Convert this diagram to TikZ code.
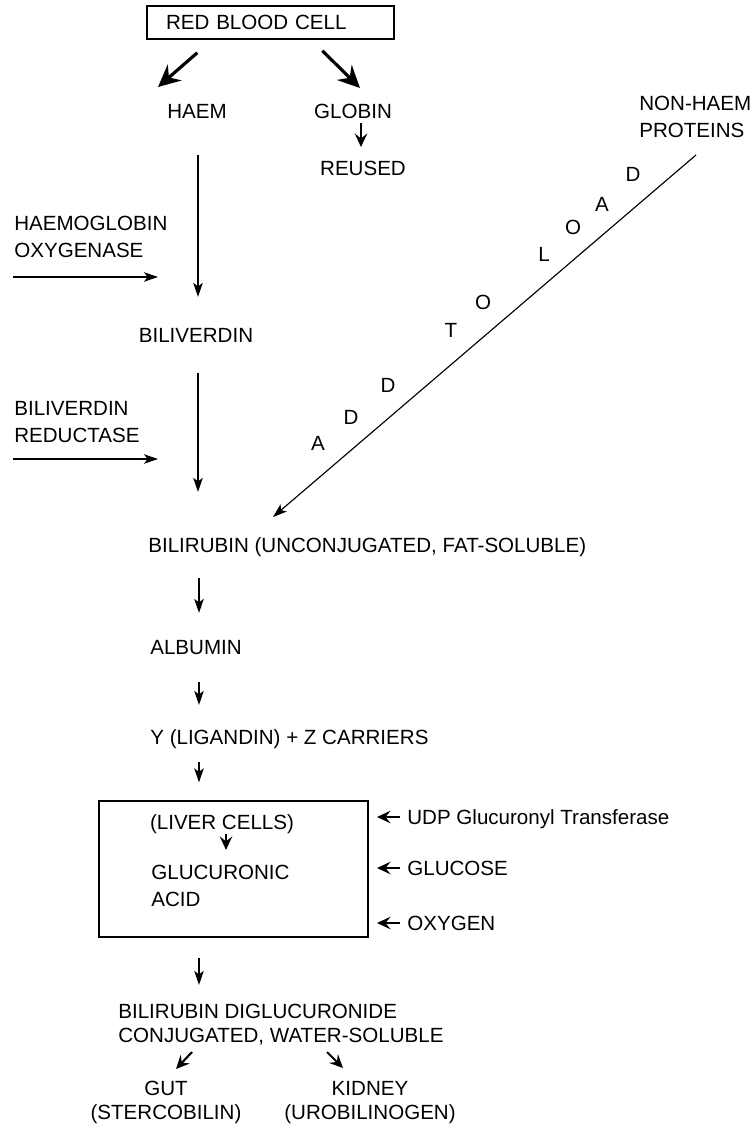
\documentclass[tikz,border=0pt]{standalone}
\usepackage{fontspec}
\setmainfont{Liberation Sans}
\usetikzlibrary{arrows.meta}
\tikzset{
  lbl/.style={font=\fontsize{11.7}{15.3}\selectfont, inner sep=0pt},
  tight/.style={font=\fontsize{11.7}{13.8}\selectfont},
  flow/.style={-{Stealth[length=0.28cm,width=0.19cm,inset=0.07cm]}, line width=0.65pt},
  short flow/.style={-{Stealth[length=0.27cm,width=0.25cm,inset=0.1cm]}, line width=1.2pt},
  big flow/.style={-{Stealth[length=0.44cm,width=0.42cm,inset=0.15cm]}, line width=1.8pt},
  cell box/.style={draw, line width=0.8pt, inner sep=0pt}
}

\begin{document}
\begin{tikzpicture}[x=0.02cm, y=-0.02cm]
    \useasboundingbox (0,0) rectangle (756,1125);

    \node[lbl, cell box, minimum width=4.94cm, minimum height=0.66cm, text width=4.18cm, inner xsep=0.38cm] (rbc) at (270.5,22.5) {RED BLOOD CELL};
    \node[lbl, anchor=base] (haem) at (197,118.4) {HAEM};
    \node[lbl, anchor=base] (globin) at (353,118.4) {GLOBIN};
    \node[lbl, anchor=base] (reused) at (363,175.4) {REUSED};
    \node[lbl, anchor=base west, align=left] (nonhaem) at (639,137.4) {NON-HAEM\\PROTEINS};
    \node[lbl, anchor=base west, align=left] (hox) at (14,257.4) {HAEMOGLOBIN\\OXYGENASE};
    \node[lbl, anchor=base] (bvd) at (196,342.4) {BILIVERDIN};
    \node[lbl, anchor=base west, align=left] (bvr) at (14,442.4) {BILIVERDIN\\REDUCTASE};
    \node[lbl, anchor=base west] (bilirubin) at (148,552.4) {BILIRUBIN (UNCONJUGATED, FAT-SOLUBLE)};
    \node[lbl, anchor=base west] (albumin) at (150,654.4) {ALBUMIN};
    \node[lbl, anchor=base west] (carriers) at (150,744.4) {Y (LIGANDIN) + Z CARRIERS};

    \node[cell box, minimum width=5.38cm, minimum height=2.72cm] (liver) at (233.5,869) {};
    \node[lbl, anchor=base] (livercells) at (222,829.4) {(LIVER CELLS)};
    \node[lbl, anchor=base west, align=left] (glucuronic) at (151,906.4) {GLUCURONIC\\ACID};
    \node[lbl, anchor=base west] (udp) at (407,824.4) {UDP Glucuronyl Transferase};
    \node[lbl, anchor=base west] (glucose) at (407,875.4) {GLUCOSE};
    \node[lbl, anchor=base west] (oxygen) at (407,930.4) {OXYGEN};

    \node[lbl, tight, anchor=base west, align=left] (conj) at (118,1042.4) {BILIRUBIN DIGLUCURONIDE\\CONJUGATED, WATER-SOLUBLE};
    \node[lbl, tight, anchor=base, align=center] (gut) at (166,1119.4) {GUT\\(STERCOBILIN)};
    \node[lbl, tight, anchor=base, align=center] (kidney) at (370,1119.4) {KIDNEY\\(UROBILINOGEN)};

    \foreach \ch/\x/\y [count=\i] in {A/318/443, D/351/417, D/388/385, T/451/330, O/483/302,
                                      L/544/254, O/573/227, A/602/204, D/633/174}
      \node[lbl] (load\i) at (\x,\y) {\ch};

    \coordinate (spine) at (199,0);
    \coordinate (hox tail) at (13,277);
    \coordinate (hox tip) at (158,277);
    \coordinate (bvr tail) at (13,459);
    \coordinate (bvr tip) at (158,459);

    \draw[big flow] ([shift={(51,13)}]rbc.south west) -- ([shift={(-39,-31.4)}]haem.base);
    \draw[big flow] ([shift={(176,11)}]rbc.south west) -- ([shift={(7,-30.4)}]globin.base);
    \draw[short flow] ([shift={(8,4.6)}]globin.base) -- ([shift={(-2,-28.4)}]reused.base);

    \draw[flow, shorten <=0.73cm, shorten >=0.91cm] ([xshift=0.02cm]haem.base) -- ([xshift=0.02cm]haem.base |- bvd.base);
    \draw[flow, shorten <=0.61cm, shorten >=1.21cm] ([xshift=0.04cm]bvd.base) -- ([xshift=0.04cm]bvd.base |- bilirubin.base);
    \draw[flow] (hox tail) -- (hox tip);
    \draw[flow] (bvr tail) -- (bvr tip);
    \draw[flow] ([shift={(57,17.6)}]nonhaem.base west) -- ([shift={(125,-35.4)}]bilirubin.base west);

    \draw[flow, shorten <=0.51cm, shorten >=0.83cm] (bilirubin.base west -| spine) -- (albumin.base west -| spine);
    \draw[flow, shorten <=0.55cm, shorten >=0.79cm] (albumin.base west -| spine) -- (carriers.base west -| spine);
    \draw[flow, shorten <=0.35cm, shorten >=0.36cm] (carriers.base west -| spine) -- (liver.north -| spine);
    \draw[short flow, shorten <=0.09cm, shorten >=1.13cm] ([xshift=0.08cm]livercells.base) -- ([xshift=0.08cm]livercells.base |- glucuronic.base west);
    \foreach \n in {udp,glucose,oxygen}
      \draw[short flow] ([shift={(-7,-7.4)}]\n.base west) -- ([shift={(-30,-7.4)}]\n.base west);
    \draw[flow, shorten <=0.4cm, shorten >=1.15cm] (liver.south -| spine) -- (conj.base west -| spine);

    \draw[short flow] ([shift={(74,9.6)}]conj.base west) -- ([shift={(10,-50.4)}]gut.base);
    \draw[short flow] ([shift={(209,9.6)}]conj.base west) -- ([shift={(-27,-51.4)}]kidney.base);
\end{tikzpicture}
\end{document}
